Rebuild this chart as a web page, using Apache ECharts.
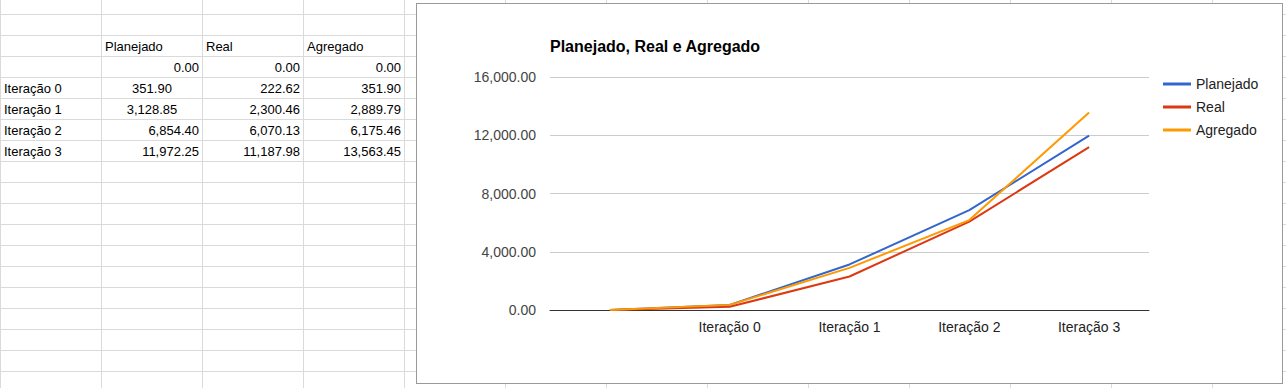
<!DOCTYPE html>
<html>
<head>
<meta charset="utf-8">
<script src="https://cdn.jsdelivr.net/npm/echarts@6/dist/echarts.min.js"></script>
<style>
  html, body { margin: 0; padding: 0; width: 1286px; height: 388px; overflow: hidden; background: #fff; }
  body { position: relative; font-family: "Liberation Sans", Arial, sans-serif; }
  #sheet { position: absolute; left: 0; top: 0; width: 1286px; height: 388px; }
  .vl { position: absolute; top: 0; width: 1px; height: 388px; background: #dadada; }
  .hl { position: absolute; left: 0; height: 1px; width: 1286px; background: #dadada; }
  .cell { position: absolute; height: 21px; line-height: 23px; font-size: 13px; color: #000; white-space: nowrap; box-sizing: border-box; }
  #box { position: absolute; left: 416px; top: 3px; width: 865px; height: 379px; border: 1px solid #9a9a9a; background: #fff; }
  #chart { position: absolute; left: 0; top: 0; width: 1286px; height: 388px; }
</style>
</head>
<body>
<div id="sheet"></div>
<div id="box"></div>
<div id="chart"></div>
<script>
// ---- data ----
const categories = ["", "Iteração 0", "Iteração 1", "Iteração 2", "Iteração 3"];
const seriesNames = ["Planejado", "Real", "Agregado"];
const planejado = [0, 351.90, 3128.85, 6854.40, 11972.25];
const real = [0, 222.62, 2300.46, 6070.13, 11187.98];
const agregado = [0, 351.90, 2889.79, 6175.46, 13563.45];
const yTicks = [0, 4000, 8000, 12000, 16000];
const colors = ["#3366cc", "#dc3912", "#ff9900"];

const fmt = v => v.toLocaleString("en-US", { minimumFractionDigits: 2, maximumFractionDigits: 2 });

// ---- spreadsheet grid ----
const sheet = document.getElementById("sheet");
const colW = 101, rowH = 21, rowTop = 14;
for (let k = 0; k <= 12; k++) {
  const d = document.createElement("div");
  d.className = "vl"; d.style.left = (k === 0 ? 0 : colW * k) + "px";
  sheet.appendChild(d);
}
for (let y = rowTop; y < 388; y += rowH) {
  const d = document.createElement("div");
  d.className = "hl"; d.style.top = y + "px";
  sheet.appendChild(d);
}
function cell(col, row, text, align) {
  const d = document.createElement("div");
  d.className = "cell";
  d.style.left = (col * colW + 1) + "px";
  d.style.width = (colW - 1) + "px";
  d.style.top = (rowTop + row * rowH) + "px";
  d.style.textAlign = align;
  if (align === "left") d.style.paddingLeft = "3px";
  if (align === "right") d.style.paddingRight = "3px";
  d.textContent = text;
  sheet.appendChild(d);
}
seriesNames.forEach((n, i) => cell(i + 1, 1, n, "left"));
const cols = [planejado, real, agregado];
categories.forEach((c, r) => {
  if (c) cell(0, r + 2, c, "left");
  cols.forEach((arr, i) => {
    const centered = (i === 0 && (r === 1 || r === 2));
    cell(i + 1, r + 2, fmt(arr[r]), centered ? "center" : "right");
  });
});

// ---- chart ----
const chart = echarts.init(document.getElementById("chart"), null, { renderer: "svg" });
const font = "'Liberation Sans', Arial, sans-serif";
chart.setOption({
  backgroundColor: "transparent",
  animation: false,
  color: colors,
  title: {
    text: "Planejado, Real e Agregado",
    left: 545, top: 33,
    textStyle: { fontFamily: font, fontSize: 16, fontWeight: "bold", color: "#000" }
  },
  legend: {
    orient: "vertical",
    left: 1158, top: 72,
    icon: "rect",
    itemWidth: 28, itemHeight: 3, itemGap: 9,
    textStyle: { fontFamily: font, fontSize: 14, color: "#222", lineHeight: 14 },
    data: seriesNames
  },
  grid: { left: 550, right: 137, top: 77, bottom: 78, containLabel: false },
  xAxis: {
    type: "category",
    data: categories,
    boundaryGap: true,
    axisLine: { lineStyle: { color: "#333", width: 1 } },
    axisTick: { show: false },
    axisLabel: { fontFamily: font, fontSize: 14, color: "#222", margin: 10, interval: 0 }
  },
  yAxis: {
    type: "value",
    min: yTicks[0], max: yTicks[yTicks.length - 1], interval: yTicks[1] - yTicks[0],
    axisLine: { show: false },
    axisTick: { show: false },
    splitLine: { lineStyle: { color: "#cccccc", width: 1 } },
    axisLabel: { fontFamily: font, fontSize: 14, color: "#444", margin: 14, formatter: v => fmt(v) }
  },
  series: [
    { name: seriesNames[0], type: "line", data: planejado, symbol: "none", lineStyle: { width: 2 } },
    { name: seriesNames[1], type: "line", data: real, symbol: "none", lineStyle: { width: 2 } },
    { name: seriesNames[2], type: "line", data: agregado, symbol: "none", lineStyle: { width: 2 } }
  ]
});
</script>
</body>
</html>
